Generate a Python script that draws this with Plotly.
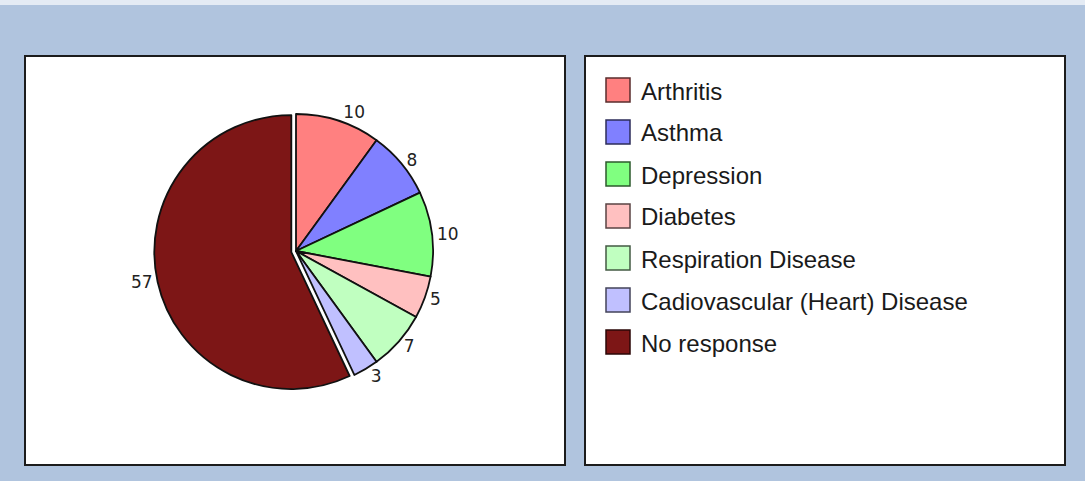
import plotly.graph_objects as go

categories = ["Arthritis", "Asthma", "Depression", "Diabetes",
              "Respiration Disease", "Cadiovascular (Heart) Disease", "No response"]
values = [10, 8, 10, 5, 7, 3, 57]
colors = ["#FF8080", "#8080FF", "#80FF80", "#FFC0C0", "#C0FFC0", "#C0C0FF", "#7D1616"]
pulls = [0, 0, 0, 0, 0, 0, 0.035]

W, H = 1085, 481


def px(x):
    return x / W


def py(y):
    return 1 - y / H


def darker(hex_color, f=0.35):
    h = hex_color.lstrip("#")
    r, g, b = (int(h[i:i + 2], 16) for i in (0, 2, 4))
    return "rgb(%d,%d,%d)" % (r * f, g * f, b * f)


# pie geometry (pixels)
cx, cy, r = 296, 251, 137
half = r * (1 + max(pulls))

fig = go.Figure()
fig.add_trace(go.Pie(
    labels=categories, values=values, sort=False, direction="clockwise",
    rotation=0, pull=pulls,
    marker=dict(colors=colors, line=dict(color="#111111", width=1.8)),
    textposition="outside", texttemplate="%{value}",
    textfont=dict(family="DejaVu Sans", size=17, color="#222222"),
    showlegend=False, hoverinfo="label+value",
    domain=dict(x=[px(cx - half), px(cx + half)], y=[py(cy + half), py(cy - half)]),
))

shapes = [
    dict(type="rect", xref="paper", yref="paper", x0=0, x1=1, y0=py(5), y1=1,
         fillcolor="#E4EBF4", line=dict(width=0), layer="below"),
    dict(type="rect", xref="paper", yref="paper", x0=px(25), x1=px(565), y0=py(465), y1=py(56),
         fillcolor="white", line=dict(color="#1c1c1c", width=2), layer="below"),
    dict(type="rect", xref="paper", yref="paper", x0=px(585), x1=px(1065), y0=py(465), y1=py(56),
         fillcolor="white", line=dict(color="#1c1c1c", width=2), layer="below"),
]
annotations = []
lx0, lsize, ly0, lstep = 606, 24, 90, 42
for i, (cat, col) in enumerate(zip(categories, colors)):
    yc = ly0 + i * lstep
    shapes.append(dict(type="rect", xref="paper", yref="paper",
                       x0=px(lx0), x1=px(lx0 + lsize), y0=py(yc + lsize / 2), y1=py(yc - lsize / 2),
                       fillcolor=col, line=dict(color=darker(col), width=1.5)))
    annotations.append(dict(xref="paper", yref="paper", x=px(639), y=py(yc + 1), text=cat,
                            showarrow=False, xanchor="left", yanchor="middle",
                            font=dict(family="Liberation Sans", size=24, color="#1a1a1a")))

fig.update_layout(
    width=W, height=H, margin=dict(l=0, r=0, t=0, b=0),
    paper_bgcolor="#B0C4DE", plot_bgcolor="#B0C4DE",
    shapes=shapes, annotations=annotations,
)
fig.write_html("out.html", config={"displayModeBar": False},
               post_script="document.body.style.margin='0';document.body.style.overflow='hidden';")
